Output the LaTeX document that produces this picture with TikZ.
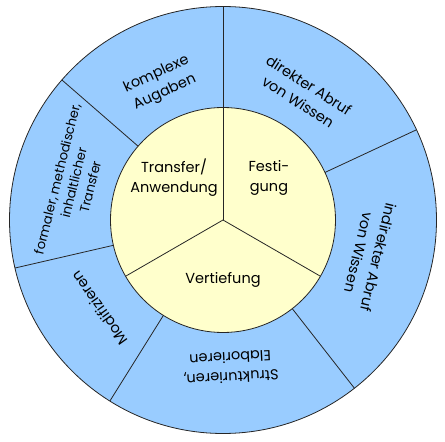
\documentclass[tikz,border=0pt]{standalone}
\usepackage{fontspec}
\setmainfont{Poppins}
\usepackage{tikz}

\definecolor{ringblue}{HTML}{99CCFF}
\definecolor{coreyellow}{HTML}{FFFFCC}

\tikzset{
  seg/.style={draw=black!85, line width=0.8pt},
  lbl/.style={align=center, inner sep=0pt, font=\fontsize{14.5}{20}\selectfont},
}

\begin{document}
\begin{tikzpicture}[x=1pt,y=1pt]
\useasboundingbox (-223,-222) rectangle (222,220);

\draw[fill=ringblue, seg] (0,0) circle (213.5);
\draw[fill=coreyellow, seg] (0,0) circle (112.5);

%%%%%%%%%%%%%%%%%%%%%%%%%%%%%%% outer ring
\draw[seg] (90:112.5) -- (90:213.5);
\draw[seg] (25:112.5) -- (25:213.5);
\draw[seg] (-52:112.5) -- (-52:213.5);
\draw[seg] (238:112.5) -- (238:213.5);
\draw[seg] (193:112.5) -- (193:213.5);
\draw[seg] (139:112.5) -- (139:213.5);

%%%%%%%%%%%%%%%%%%%%%%%%%%%%%%% inner circle
\draw[seg] (0,0) -- (90:112.5);
\draw[seg] (0,0) -- (-30:112.5);
\draw[seg] (0,0) -- (210:112.5);

\node[lbl] (transfer) at (-49,42) {Transfer/\\Anwendung};
\node[lbl] (festigung) at (46,42) {Festi-\\gung};
\node[lbl] (vertiefung) at (0,-60) {Vertiefung};

%%%%%%%%%%%%%%%%%%%%%%%%%%%%%%% outer labels
\node[lbl, rotate=24.5] (komplex) at (114.5:150) {komplexe\\Augaben};
\node[lbl, rotate=-32.5] (direkt) at (57.5:150) {direkter Abruf\\von Wissen};
\node[lbl, rotate=-103.5] (indirekt) at (-13.5:150) {indirekter Abruf\\von Wissen};
\node[lbl, rotate=-177] (struktur) at (-87:148) {Strukturieren,\\Elaborieren};
\node[lbl, rotate=125.5] (modif) at (215.5:152) {Modifizieren};
\node[lbl, rotate=76, font=\fontsize{13}{17}\selectfont] (formal) at (166:154)
  {formaler, methodischer,\\inhaltlicher\\Transfer};
\end{tikzpicture}
\end{document}
